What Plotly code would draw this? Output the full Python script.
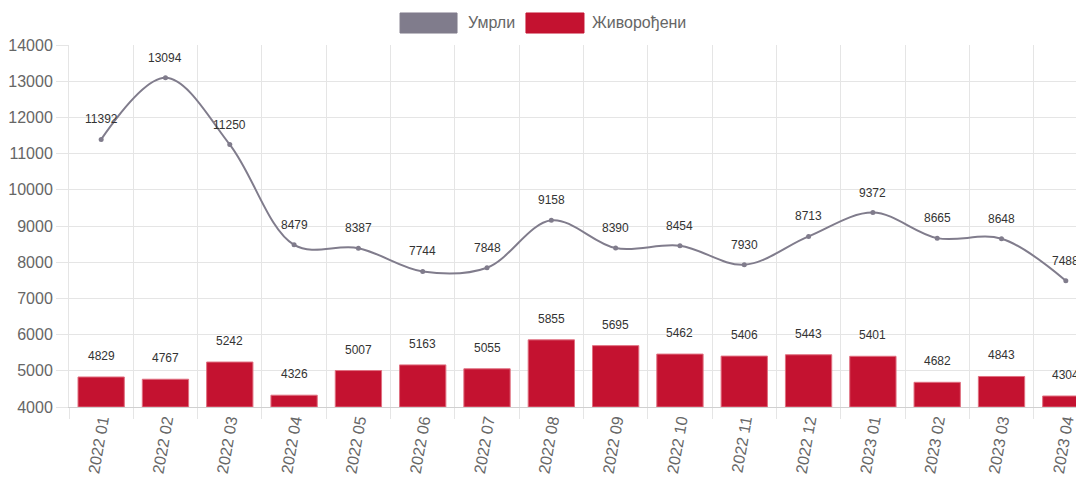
import plotly.graph_objects as go

categories = ["2022 01", "2022 02", "2022 03", "2022 04", "2022 05", "2022 06", "2022 07", "2022 08",
              "2022 09", "2022 10", "2022 11", "2022 12", "2023 01", "2023 02", "2023 03", "2023 04"]
umrli = [11392, 13094, 11250, 8479, 8387, 7744, 7848, 9158, 8390, 8454, 7930, 8713, 9372, 8665, 8648, 7488]
zivorodjeni = [4829, 4767, 5242, 4326, 5007, 5163, 5055, 5855, 5695, 5462, 5406, 5443, 5401, 4682, 4843, 4304]
series_names = ["Умрли", "Живорођени"]

GRAY = "#807c8c"
RED = "#c41230"
FONT = "Arial, Liberation Sans, sans-serif"

fig = go.Figure()
fig.add_trace(go.Bar(
    x=categories, y=[v - 4000 for v in zivorodjeni], base=4000,
    marker=dict(color=RED, line=dict(color="#e07080", width=1)),
    width=0.72, showlegend=False, hoverinfo="skip",
))
fig.add_trace(go.Scatter(
    x=categories, y=umrli, mode="lines+markers",
    line=dict(color=GRAY, width=2, shape="spline", smoothing=1.0),
    marker=dict(color=GRAY, size=5), showlegend=False, hoverinfo="skip",
))

annotations = []
for c, v in zip(categories, umrli):
    annotations.append(dict(x=c, y=v, xref="x", yref="y", text=str(v), showarrow=False,
                            yshift=20, font=dict(family=FONT, size=12, color="#333")))
for c, v in zip(categories, zivorodjeni):
    annotations.append(dict(x=c, y=v, xref="x", yref="y", text=str(v), showarrow=False,
                            yshift=21, font=dict(family=FONT, size=12, color="#333")))

# custom legend (Chart.js style boxes)
legend_items = [(series_names[0], GRAY, 0.3236, 0.3793, 0.3881),
                (series_names[1], RED, 0.4467, 0.5034, 0.5093)]
shapes = []
for name, col, x0, x1, tx in legend_items:
    shapes.append(dict(type="rect", xref="paper", yref="paper", x0=x0, x1=x1, y0=1.0331, y1=1.0884,
                       fillcolor=col, line=dict(color=col, width=1)))
    annotations.append(dict(x=tx, y=1.0635, xref="paper", yref="paper", text=name, showarrow=False,
                            xanchor="left", yanchor="middle",
                            font=dict(family=FONT, size=16, color="#666")))

fig.update_layout(
    width=1084, height=471,
    margin=dict(l=61, r=0, t=37, b=72),
    paper_bgcolor="white", plot_bgcolor="white",
    font=dict(family=FONT, size=16, color="#666"),
    annotations=annotations, shapes=shapes,
    xaxis=dict(type="category", range=[-0.5, 15.407], tickson="boundaries", automargin=False,
               showgrid=True, gridcolor="#e5e5e5", gridwidth=1,
               ticks="outside", ticklen=11, tickcolor="#e5e5e5",
               tickangle=-80, tickfont=dict(family=FONT, size=16, color="#666"),
               ticklabelstandoff=-3,
               showline=True, linecolor="#d0d0d0", linewidth=1, fixedrange=True),
    yaxis=dict(range=[4000, 14000], dtick=1000, tickformat="d", automargin=False,
               showgrid=True, gridcolor="#e5e5e5",
               ticks="outside", ticklen=12, tickcolor="#e5e5e5", zeroline=False,
               showline=True, linecolor="#e5e5e5",
               tickfont=dict(family=FONT, size=16, color="#666"), fixedrange=True),
    bargap=0.28,
)

fig.write_html("out.html")
